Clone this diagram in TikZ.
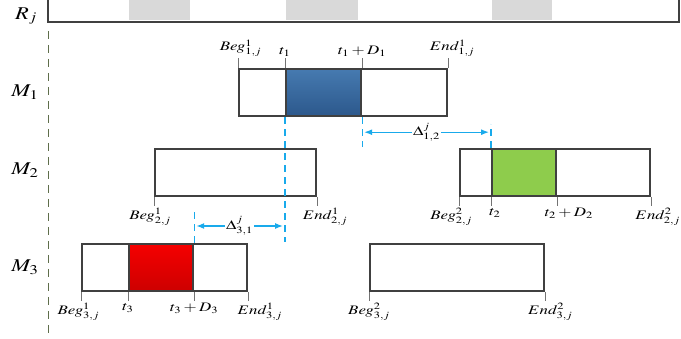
\documentclass[tikz,border=0pt]{standalone}
\usepackage{mathptmx}
\usetikzlibrary{positioning,arrows.meta,calc}

\definecolor{opblue}{RGB}{58,108,160}
\definecolor{opbluetop}{RGB}{70,122,176}
\definecolor{opbluebot}{RGB}{44,88,140}
\definecolor{opgreen}{RGB}{142,204,76}
\definecolor{opredtop}{RGB}{245,0,0}
\definecolor{opredbot}{RGB}{205,0,0}
\definecolor{guidecyan}{RGB}{25,170,235}
\definecolor{axisgreen}{RGB}{95,110,75}

\begin{document}
\begin{tikzpicture}[
  x=1pt, y=-1pt,
  font=\fontsize{13pt}{15pt}\selectfont,
  opbox/.style={
    rectangle,
    draw=black!75,
    line width=2.2pt,
    anchor=north west,
    minimum height=47pt,
    inner sep=0pt,
    fill=white,
  },
  busy/.style={rectangle, fill=black!15, anchor=north west, inner sep=0pt, minimum height=20pt},
  tick/.style={draw=black!55, line width=0.9pt},
  guide/.style={draw=guidecyan, line width=1.2pt, dash pattern=on 7pt off 5pt},
  gap/.style={{Latex[length=8pt,width=6pt]}-{Latex[length=8pt,width=6pt]}, draw=guidecyan, line width=1.3pt, shorten <=2pt, shorten >=2pt},
  dlab/.style={fill=white, inner sep=1pt, xscale=1.3},
  toplab/.style={anchor=south, inner sep=1pt, xscale=1.3},
  botlab/.style={anchor=north, inner sep=2pt, xscale=1.3},
  rowlab/.style={font=\fontsize{18pt}{20pt}\selectfont, xscale=1.25},
]
  \useasboundingbox (0,0) rectangle (681,339);

  % --- resource bar ---
  \node[busy, minimum width=61pt] (g1) at (129,0) {};
  \node[busy, minimum width=72pt] (g2) at (286,0) {};
  \node[busy, minimum width=60pt] (g3) at (492,0) {};
  \draw[draw=black!75, line width=2.2pt] (48,0) -- (48,22) -- (679,22) -- (679,0);
  \draw[axisgreen, line width=1pt, dash pattern=on 8pt off 6pt] (48,31) -- (48,339);

  \node[rowlab] (rj) at (26,16) {$R_j$};
  \node[rowlab] (r1) at (25,92) {$M_1$};
  \node[rowlab] (r2) at (25,170) {$M_2$};
  \node[rowlab] (r3) at (25,267) {$M_3$};

  % --- machine 1 ---
  \node[opbox, minimum width=208pt] (m1) at (238,68) {};
  \node[opbox, top color=opbluetop, bottom color=opbluebot, minimum width=75pt] (o1) at (285,68) {};
  \foreach \p/\q in {m1.north west/k11, o1.north west/k12, o1.north east/k13, m1.north east/k14} {
    \draw[tick] (\p) -- ++(0,-10) coordinate (\q);
  }
  \node[toplab, xshift=2pt] (beg11) at (k11) {$Beg_{1,j}^{1}$};
  \node[toplab] (t1) at (k12) {$t_1$};
  \node[toplab] (t1d) at (k13) {$t_1+D_1$};
  \node[toplab, xshift=3pt] (end11) at (k14) {$End_{1,j}^{1}$};

  % --- machine 2 ---
  \node[opbox, minimum width=161pt] (m21) at (154,148) {};
  \node[opbox, minimum width=190pt] (m22) at (459,148) {};
  \node[opbox, fill=opgreen, minimum width=64pt] (o2) at (491,148) {};
  \foreach \p/\q in {m21.south west/k21, m21.south east/k22, m22.south west/k23, o2.south west/k24, o2.south east/k25, m22.south east/k26} {
    \draw[tick] (\p) -- ++(0,9) coordinate (\q);
  }
  \node[botlab, xshift=-3pt] (beg21) at (k21) {$Beg_{2,j}^{1}$};
  \node[botlab, xshift=6pt] (end21) at (k22) {$End_{2,j}^{1}$};
  \node[botlab, xshift=-6pt] (beg22) at (k23) {$Beg_{2,j}^{2}$};
  \node[botlab, xshift=3pt] (t2) at (k24) {$t_2$};
  \node[botlab, xshift=9pt] (t2d) at (k25) {$t_2+D_2$};
  \node[botlab, xshift=5pt] (end22) at (k26) {$End_{2,j}^{2}$};

  % --- machine 3 ---
  \node[opbox, minimum width=165pt] (m31) at (81,243) {};
  \node[opbox, top color=opredtop, bottom color=opredbot, minimum width=64pt] (o3) at (128,243) {};
  \node[opbox, minimum width=174pt] (m32) at (369,243) {};
  \foreach \p/\q in {m31.south west/k31, o3.south west/k32, o3.south east/k33, m31.south east/k34, m32.south west/k35, m32.south east/k36} {
    \draw[tick] (\p) -- ++(0,9) coordinate (\q);
  }
  \node[botlab, xshift=-2pt] (beg31) at (k31) {$Beg_{3,j}^{1}$};
  \node[botlab] (t3) at (k32) {$t_3$};
  \node[botlab] (t3d) at (k33) {$t_3+D_3$};
  \node[botlab, xshift=9pt] (end31) at (k34) {$End_{3,j}^{1}$};
  \node[botlab] (beg32) at (k35) {$Beg_{3,j}^{2}$};
  \node[botlab, xshift=4pt] (end32) at (k36) {$End_{3,j}^{2}$};

  % --- gaps between operations ---
  \draw[guide] (o1.south west) -- ++(0,125);
  \draw[guide] (o1.south east) -- ++(0,30);
  \draw[guide] (o2.north west) -- ++(0,-24);
  \draw[guide] (o3.north east) -- ++(0,-35);

  \coordinate (d12a) at ($(o1.south east)+(0,15)$);
  \coordinate (d12b) at (o2.north west |- d12a);
  \draw[gap] (d12a) -- node[dlab] (lab12) {$\Delta_{1,2}^{j}$} (d12b);

  \coordinate (d31a) at ($(o3.north east)+(0,-17)$);
  \coordinate (d31b) at (o1.south west |- d31a);
  \draw[gap] (d31a) -- node[dlab] (lab31) {$\Delta_{3,1}^{j}$} (d31b);

\end{tikzpicture}
\end{document}
